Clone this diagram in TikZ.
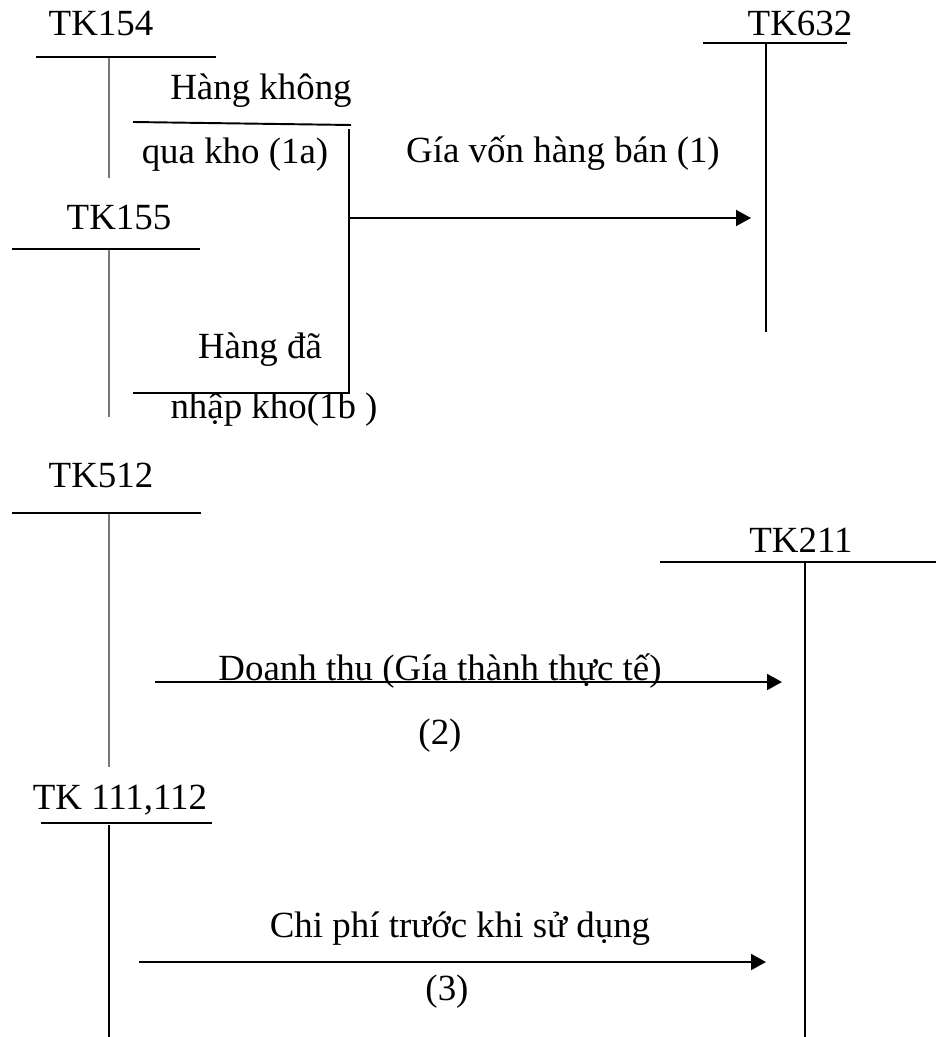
\documentclass[tikz,border=0pt]{standalone}
\usepackage{fontspec}
\setmainfont{Liberation Serif}
\usetikzlibrary{arrows.meta}
\definecolor{ledgerInk}{RGB}{0,0,0}
\definecolor{ledgerStem}{RGB}{120,120,120}

\begin{document}
\begin{tikzpicture}[x=.02cm,y=-.02cm,
      account/.style={font=\fontsize{21}{25}\selectfont, text=ledgerInk,
        inner sep=0pt, anchor=base},
      note/.style={font=\fontsize{21}{25}\selectfont, text=ledgerInk,
        inner sep=0pt, anchor=base},
      bar/.style={draw=ledgerInk, line width=1.1pt},
      stem/.style={draw=ledgerStem, line width=.6pt},
      trunk/.style={draw=ledgerInk, line width=.6pt},
      post/.style={draw=ledgerInk, line width=1.1pt,
        -{Triangle[length=.3cm,width=.32cm]}}]
      \useasboundingbox (0,0) rectangle (936,1037);
      \fill[white] (0,0) rectangle (936,1037);

      \node[account] (tk154) at (101,36) {TK154};
      \draw[bar] (36,57) -- (216,57);
      \draw[stem] (109,58) -- (109,178);
      \node[note] (hangKhong) at (261,100) {Hàng không};
      \draw[bar] (133,122) -- (351,125);
      \node[note] (quaKho) at (235,164) {qua kho (1a)};

      \node[account] (tk155) at (119,230) {TK155};
      \draw[bar] (12,249) -- (200,249);
      \draw[stem] (109,250) -- (109,417);
      \node[note] (hangDa) at (260,358) {Hàng đã};
      \draw[bar] (133,393) -- (349,393) -- (349,129);
      \node[note] (nhapKho) at (274,418) {nhập kho(1b )};

      \node[account] (tk632) at (800,36) {TK632};
      \draw[bar] (703,43) -- (847,43);
      \draw[bar] (766,44) -- (766,332);

      \coordinate (from1) at (349,218);
      \coordinate (to1) at (751,218);
      \draw[post] (from1) -- (to1);
      \node[note] (giaVon) at (563,163) {Gía vốn hàng bán (1)};

      \node[account] (tk512) at (101,487) {TK512};
      \draw[bar] (12,513) -- (201,513);
      \draw[stem] (109,514) -- (109,767);

      \node[account] (tk211) at (801,552) {TK211};
      \draw[bar] (660,562) -- (936,562);
      \draw[trunk] (805,563) -- (805,1037);

      \coordinate (from2) at (155,682);
      \coordinate (to2) at (782,682);
      \draw[post] (from2) -- (to2);
      \node[note] (doanhThu) at (440,680) {Doanh thu (Gía thành thực tế)};
      \node[note] (step2) at (440,744) {(2)};

      \node[account] (tk111) at (120,809) {TK 111,112};
      \draw[bar] (41,823) -- (212,823);
      \draw[trunk] (109,825) -- (109,1037);

      \coordinate (from3) at (139,962);
      \coordinate (to3) at (766,962);
      \draw[post] (from3) -- (to3);
      \node[note] (chiPhi) at (460,937) {Chi phí trước khi sử dụng};
      \node[note] (step3) at (447,1000) {(3)};
    \end{tikzpicture}
\end{document}
